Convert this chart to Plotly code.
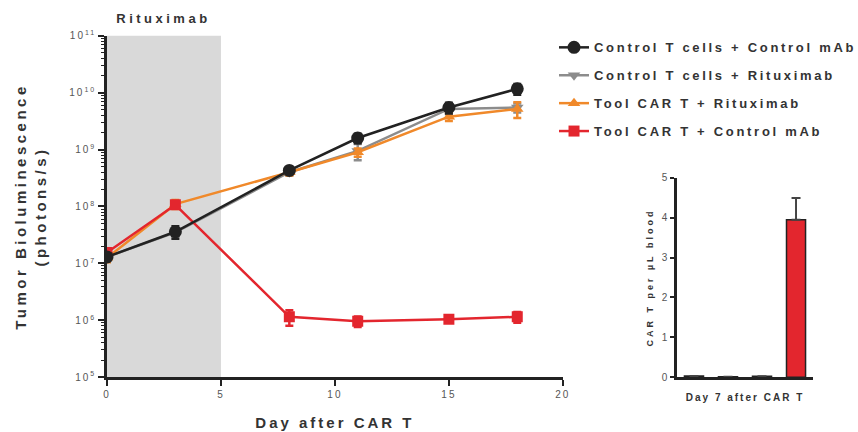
import plotly.graph_objects as go

days = [0, 3, 8, 11, 15, 18]

ctrl_ctrl = [1.3e7, 3.6e7, 4.3e8, 1.6e9, 5.5e9, 1.17e10]
ctrl_ctrl_err = [0.2e7, 0.9e7, 0.6e8, 0.3e9, 1.2e9, 0.25e10]

ctrl_ritux = [1.3e7, 3.5e7, 4.0e8, 9.5e8, 5.2e9, 5.5e9]
ctrl_ritux_err = [0.2e7, 0.6e7, 0.5e8, 3.0e8, 1.0e9, 1.0e9]

car_ritux = [1.25e7, 1.1e8, 4.0e8, 9.0e8, 3.8e9, 5.2e9]
car_ritux_err = [0.2e7, 0.2e8, 0.5e8, 1.5e8, 0.6e9, 1.6e9]

car_ctrl = [1.55e7, 1.07e8, 1.15e6, 0.96e6, 1.04e6, 1.15e6]
car_ctrl_err = [0.3e7, 0.15e8, 0.35e6, 0.2e6, 0.1e6, 0.25e6]

series_names = ["Control T cells + Control mAb", "Control T cells + Rituximab",
                "Tool CAR T + Rituximab", "Tool CAR T + Control mAb"]
colors = ["#222222", "#8c8c8c", "#f0892a", "#e3262e"]
symbols = ["circle", "triangle-down", "triangle-up", "square"]

bar_groups = ["g1", "g2", "g3", "g4"]
bar_vals = [0.03, 0.01, 0.02, 3.95]
bar_err = [0.0, 0.0, 0.0, 0.55]

ytick_vals = [1e5, 1e6, 1e7, 1e8, 1e9, 1e10, 1e11]
ytick_text = ["10<sup>5</sup>", "10<sup>6</sup>", "10<sup>7</sup>", "10<sup>8</sup>",
              "10<sup>9</sup>", "10<sup>10</sup>", "10<sup>11</sup>"]

FONT = "Liberation Sans, Arial, sans-serif"
TXT = "#333333"

fig = go.Figure()

data = [ctrl_ctrl, ctrl_ritux, car_ritux, car_ctrl]
errs = [ctrl_ctrl_err, ctrl_ritux_err, car_ritux_err, car_ctrl_err]
sizes = [13, 11, 11, 11]
draw_order = [1, 2, 3, 0]
for i in draw_order:
    fig.add_trace(go.Scatter(
        x=days, y=data[i], name="<b>" + series_names[i] + "</b>", mode="lines+markers",
        line=dict(color=colors[i], width=2.5),
        marker=dict(symbol=symbols[i], size=sizes[i], color=colors[i]),
        error_y=dict(type="data", array=errs[i], color=colors[i], thickness=2.5, width=4),
        legendrank=i + 1, legendgroup=str(i),
        xaxis="x", yaxis="y",
    ))

fig.add_trace(go.Bar(
    x=bar_groups, y=bar_vals, width=0.56,
    marker=dict(color=colors, line=dict(color="#222222", width=1.5)),
    error_y=dict(type="data", array=bar_err, symmetric=False, arrayminus=[0, 0, 0, 0],
                 color="#444444", thickness=2, width=4.5),
    showlegend=False, xaxis="x2", yaxis="y2",
))

fig.add_shape(type="rect", xref="x", yref="y domain", x0=0, x1=5, y0=0, y1=1,
              fillcolor="#d9d9d9", line=dict(width=0), layer="below")
fig.add_annotation(text="<b>Rituximab</b>", xref="x", yref="paper", x=2.5, y=0.958,
                   yanchor="middle", showarrow=False,
                   font=dict(size=13, color=TXT, family=FONT))

axis_common = dict(showline=True, linecolor="#222222", linewidth=2.5, ticks="outside",
                   tickcolor="#222222", tickwidth=2, showgrid=False, zeroline=False,
                   automargin=False,
                   tickfont=dict(size=10, color="#555555", family=FONT))

fig.update_layout(
    width=858, height=432,
    margin=dict(l=0, r=0, t=0, b=0),
    paper_bgcolor="white", plot_bgcolor="white",
    font=dict(family=FONT, color=TXT),
    xaxis=dict(domain=[0.1247, 0.656], range=[0, 20], tickvals=[0, 5, 10, 15, 20],
               ticklen=6, anchor="y",
               title=dict(text="<b>Day after CAR T</b>", font=dict(size=15, color=TXT), standoff=19),
               **axis_common),
    yaxis=dict(domain=[0.127, 0.917], type="log", range=[5, 11], tickvals=ytick_vals,
               ticktext=ytick_text, ticklen=6, anchor="x",
               minor=dict(ticks="outside", dtick="D1", ticklen=3, tickcolor="#222222",
                          tickwidth=1, showgrid=False),
               title=dict(text="<b>Tumor Bioluminescence<br>(photons/s)</b>",
                          font=dict(size=15, color=TXT), standoff=28),
               **axis_common),
    xaxis2=dict(domain=[0.789, 0.9476], range=[-0.5, 3.5], anchor="y2",
                showticklabels=False, ticks="", showline=True, linecolor="#222222",
                linewidth=2.5, showgrid=False, zeroline=False, automargin=False,
                title=dict(text="<b>Day 7 after CAR T</b>", font=dict(size=10, color=TXT), standoff=16)),
    yaxis2=dict(domain=[0.127, 0.588], range=[0, 5], tickvals=[0, 1, 2, 3, 4, 5], ticklen=4,
                anchor="x2",
                title=dict(text="<b>CAR T per µL blood</b>", font=dict(size=9, color=TXT), standoff=8),
                **axis_common),
    legend=dict(x=0.6457, y=0.925, xanchor="left", yanchor="top",
                font=dict(size=13, color=TXT, family=FONT),
                tracegroupgap=8, itemwidth=30, bgcolor="rgba(0,0,0,0)"),
    bargap=0.4,
)

post = """
document.body.style.margin = '0';
document.body.style.padding = '0';
var gd = document.getElementById('{plot_id}');
function sp(sel, v){ gd.querySelectorAll(sel).forEach(function(e){ e.style.letterSpacing = v; }); }
function applySpacing(){
  sp('.legendtext', '2.7px');
  sp('.g-xtitle text', '3px');
  sp('.g-ytitle text', '3.5px');
  sp('.g-x2title text', '2px');
  sp('.g-y2title text', '3px');
  sp('.annotation-text', '3.5px');
  sp('.xtick text', '2px');
  sp('.ytick text', '2px');
  sp('.y2tick text', '1px');
  gd.querySelectorAll('.legend .scrollbox, .legend').forEach(function(e){ e.removeAttribute('clip-path'); });
}
applySpacing();
if (gd.on) { gd.on('plotly_afterplot', applySpacing); }
"""

fig.write_html("out.html", post_script=post, config={"displayModeBar": False})
